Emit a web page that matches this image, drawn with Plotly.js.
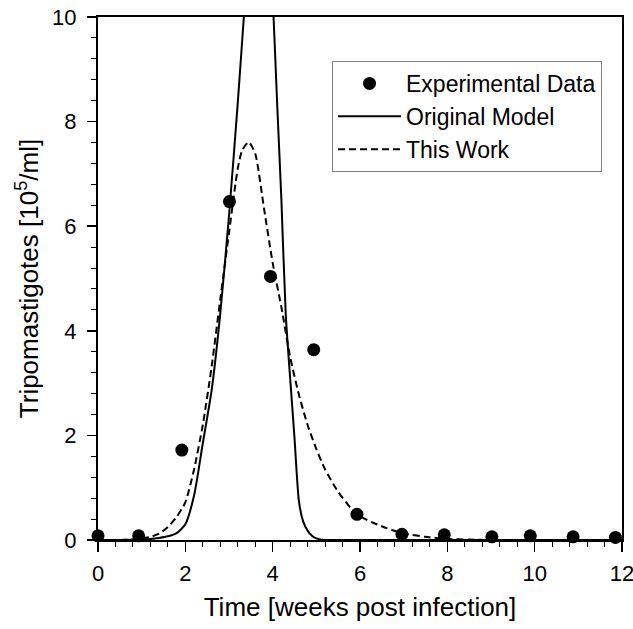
<!DOCTYPE html>
<html>
<head>
<meta charset="utf-8">
<script src="https://cdn.plot.ly/plotly-3.0.1.min.js"></script>
<style>html,body{margin:0;padding:0;background:#fff;}#chart{width:633px;height:629px;}</style>
</head>
<body>
<div id="chart"></div>
<script>
// Experimental data
var expTime = [0, 0.93, 1.92, 3.01, 3.95, 4.94, 5.93, 6.96, 7.93, 9.02, 9.9, 10.88, 11.85];
var expValue = [0.08, 0.08, 1.72, 6.47, 5.04, 3.64, 0.49, 0.11, 0.10, 0.06, 0.08, 0.06, 0.05];

// Original model (solid)
var origTime = [0, 0.5, 1.0, 1.2, 1.4, 1.6, 1.8, 2.0, 2.2, 2.4, 2.6, 2.8, 3.0, 3.2, 3.34, 3.5, 3.7, 3.9, 4.02, 4.1, 4.2, 4.3, 4.4, 4.5, 4.6, 4.7, 4.8, 4.9, 5.0, 5.2, 5.5, 6, 8, 10, 12];
var origValue = [0, 0, 0.01, 0.02, 0.04, 0.07, 0.13, 0.3, 0.85, 1.85, 2.85, 4.33, 6.2, 8.35, 10, 11.8, 12.6, 11.8, 10, 8.4, 6.5, 4.3, 3.1, 1.95, 0.75, 0.35, 0.18, 0.08, 0.03, 0, 0, 0, 0, 0, 0];

// This work (dashed)
var workTime = [0, 0.5, 0.8, 1.0, 1.2, 1.4, 1.6, 1.8, 2.0, 2.2, 2.4, 2.6, 2.8, 3.0, 3.2, 3.3, 3.45, 3.6, 3.8, 4.0, 4.2, 4.4, 4.6, 4.8, 5.0, 5.2, 5.5, 5.8, 6.0, 6.3, 6.6, 7.0, 7.5, 8.0, 8.5, 9, 10, 12];
var workValue = [0, 0, 0.01, 0.03, 0.06, 0.12, 0.25, 0.44, 0.72, 1.35, 2.2, 3.3, 4.6, 5.87, 7.1, 7.45, 7.61, 7.39, 6.35, 5.3, 4.45, 3.5, 2.78, 2.2, 1.74, 1.35, 0.92, 0.6, 0.45, 0.33, 0.23, 0.125, 0.06, 0.02, 0.008, 0, 0, 0];

var xTicks = [0, 2, 4, 6, 8, 10, 12];
var yTicks = [0, 2, 4, 6, 8, 10];

var FONT = "Liberation Sans, Arial, sans-serif";

var traces = [
  {x: expTime, y: expValue, mode: 'markers', name: 'Experimental Data', type: 'scatter',
   marker: {color: '#000', size: 13}, cliponaxis: false},
  {x: origTime, y: origValue, mode: 'lines', name: 'Original Model', type: 'scatter',
   line: {color: '#000', width: 2, shape: 'spline', smoothing: 0.6}},
  {x: workTime, y: workValue, mode: 'lines', name: 'This Work', type: 'scatter',
   line: {color: '#000', width: 2, dash: '7px,4px', shape: 'spline', smoothing: 0.6}}
];

var layout = {
  width: 633, height: 629,
  margin: {l: 98, r: 11, t: 17, b: 89, autoexpand: false},
  paper_bgcolor: '#fff', plot_bgcolor: '#fff',
  font: {family: FONT, color: '#000', size: 22},
  showlegend: true,
  legend: {x: 0.4466, y: 0.9159, xref: 'paper', yref: 'paper', xanchor: 'left', yanchor: 'top',
    bordercolor: '#808080', borderwidth: 1, bgcolor: 'rgba(255,255,255,0)',
    font: {family: FONT, size: 23, color: '#000'}, itemwidth: 63, tracegroupgap: 0},
  xaxis: {range: [0, 12], tickvals: xTicks, ticktext: xTicks.map(String),
    showgrid: false, zeroline: false, showline: true, linecolor: '#000', linewidth: 2, mirror: true,
    ticks: 'outside', ticklen: 10, tickwidth: 1.5, tickcolor: '#000', ticklabelstandoff: 3,
    ticklabeloverflow: 'allow',
    tickfont: {family: FONT, size: 22, color: '#000'},
    minor: {dtick: 0.4, tick0: 0, ticks: 'outside', ticklen: 5, tickwidth: 1, tickcolor: '#000', showgrid: false},
    title: {text: 'Time [weeks post infection]', font: {family: FONT, size: 26, color: '#000'}, standoff: 12}},
  yaxis: {range: [0, 10], tickvals: yTicks, ticktext: yTicks.map(String),
    showgrid: false, zeroline: false, showline: true, linecolor: '#000', linewidth: 2, mirror: true,
    ticks: 'outside', ticklen: 9, tickwidth: 1.5, tickcolor: '#000', ticklabelstandoff: 6,
    ticklabeloverflow: 'allow',
    tickfont: {family: FONT, size: 22, color: '#000'},
    minor: {dtick: 0.4, tick0: 0, ticks: 'outside', ticklen: 5, tickwidth: 1, tickcolor: '#000', showgrid: false},
    title: {text: 'Tripomastigotes [10<sup>5</sup>/ml]', font: {family: FONT, size: 26, color: '#000'}, standoff: 6}}
};

Plotly.newPlot('chart', traces, layout, {displayModeBar: false, staticPlot: true});
</script>
</body>
</html>
